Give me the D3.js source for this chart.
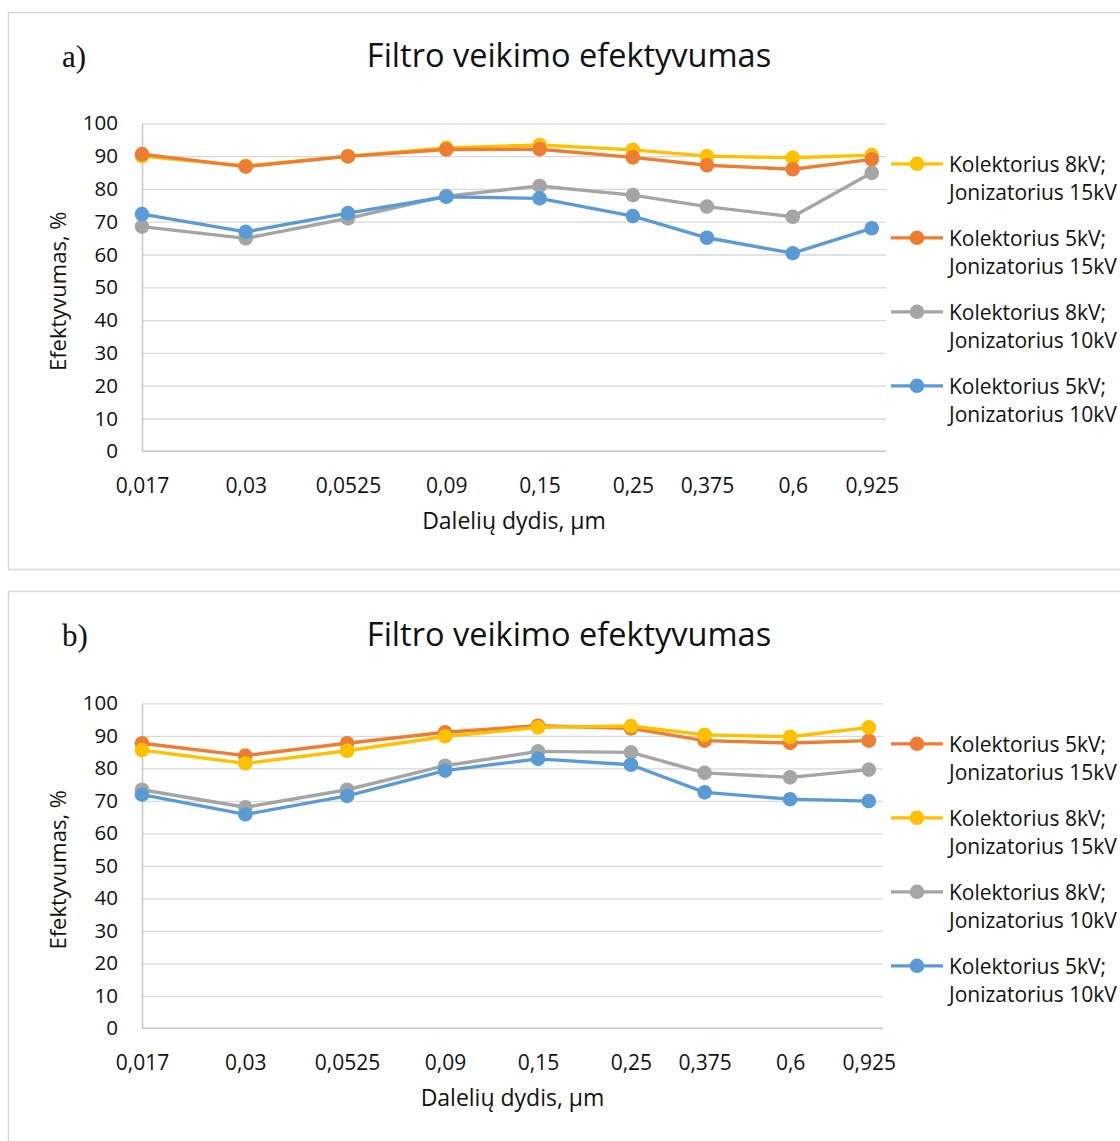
<!DOCTYPE html>
<html>
<head>
<meta charset="utf-8">
<script src="https://cdn.jsdelivr.net/npm/d3@7"></script>
<style>
  body { margin: 0; background: #fff; }
  text { font-family: "Open Sans", sans-serif; fill: #111; }
</style>
</head>
<body>
<div class="plot-item"></div>
<script>
// particle sizes, um (x axis is logarithmic)
var sizes = [0.017, 0.03, 0.0525, 0.09, 0.15, 0.25, 0.375, 0.6, 0.925];
var sizeLabels = ["0,017", "0,03", "0,0525", "0,09", "0,15", "0,25", "0,375", "0,6", "0,925"];
var yTicks = [0, 10, 20, 30, 40, 50, 60, 70, 80, 90, 100];

// chart a)
var aK8J15 = [90.0, 87.0, 90.0, 92.5, 93.4, 91.9, 90.0, 89.5, 90.3];
var aK5J15 = [90.6, 86.8, 89.9, 92.0, 92.1, 89.6, 87.2, 86.0, 89.0];
var aK8J10 = [68.5, 64.9, 71.0, 77.8, 80.9, 78.1, 74.6, 71.5, 84.9];
var aK5J10 = [72.3, 66.9, 72.6, 77.6, 77.1, 71.7, 65.1, 60.4, 68.0];

// chart b)
var bK5J15 = [87.7, 83.9, 87.7, 91.1, 93.1, 92.3, 88.5, 87.8, 88.5];
var bK8J15 = [85.6, 81.5, 85.4, 89.8, 92.6, 93.0, 90.3, 89.7, 92.6];
var bK8J10 = [73.4, 68.0, 73.4, 80.8, 85.2, 84.9, 78.6, 77.2, 79.6];
var bK5J10 = [71.9, 65.8, 71.5, 79.3, 82.9, 81.1, 72.6, 70.5, 69.9];

var colors = {
  k8j15: "#FFC000",
  k5j15: "#ED7D31",
  k8j10: "#A5A5A5",
  k5j10: "#5B9BD5"
};

var w = 1120;
var h = 1141;

var svg = d3.select(".plot-item").append("svg")
      .attr("width", w)
      .attr("height", h);

var charts = [
  {
    label: "a)",
    top: 12,
    plotTop: 123.3,
    plotBottom: 451.3,
    plotLeft: 142,
    plotRight: 886,
    series: [
      { name: ["Kolektorius 8kV;", "Jonizatorius 15kV"], color: colors.k8j15, values: aK8J15 },
      { name: ["Kolektorius 5kV;", "Jonizatorius 15kV"], color: colors.k5j15, values: aK5J15 },
      { name: ["Kolektorius 8kV;", "Jonizatorius 10kV"], color: colors.k8j10, values: aK8J10 },
      { name: ["Kolektorius 5kV;", "Jonizatorius 10kV"], color: colors.k5j10, values: aK5J10 }
    ]
  },
  {
    label: "b)",
    top: 591,
    plotTop: 703.3,
    plotBottom: 1028.3,
    plotLeft: 142,
    plotRight: 883,
    series: [
      { name: ["Kolektorius 5kV;", "Jonizatorius 15kV"], color: colors.k5j15, values: bK5J15 },
      { name: ["Kolektorius 8kV;", "Jonizatorius 15kV"], color: colors.k8j15, values: bK8J15 },
      { name: ["Kolektorius 8kV;", "Jonizatorius 10kV"], color: colors.k8j10, values: bK8J10 },
      { name: ["Kolektorius 5kV;", "Jonizatorius 10kV"], color: colors.k5j10, values: bK5J10 }
    ]
  }
];

charts.forEach(function(c){
  drawChart(c);
});

function drawChart(c){
  var g = svg.append("g");

  // frame (runs off the right edge like the original)
  g.append("rect")
    .attr("x", 8.5)
    .attr("y", c.top + 0.5)
    .attr("width", 1200)
    .attr("height", 557)
    .attr("fill", "none")
    .attr("stroke", "#d9d9d9")
    .attr("stroke-width", 1.5);

  g.append("text")
    .attr("x", 62)
    .attr("y", c.top + 55)
    .style("font-family", "'Liberation Serif', serif")
    .style("font-size", "31px")
    .text(c.label);

  g.append("text")
    .attr("x", 569)
    .attr("y", c.top + 55)
    .attr("text-anchor", "middle")
    .style("font-size", "32.5px")
    .text("Filtro veikimo efektyvumas");

  var x = d3.scaleLog()
        .domain([0.017, 1])
        .range([c.plotLeft, c.plotRight]);
  var y = d3.scaleLinear()
        .domain([0, 100])
        .range([c.plotBottom, c.plotTop]);

  // gridlines
  var yGridlines = d3.axisLeft(y)
        .tickValues(yTicks.slice(1))
        .tickSize(-(c.plotRight - c.plotLeft))
        .tickFormat("");
  var grid = g.append("g")
    .classed("gridline y", true)
    .attr("transform", "translate(" + c.plotLeft + ",0)")
    .call(yGridlines);
  grid.select(".domain").remove();
  grid.selectAll("line")
    .attr("stroke", "#d9d9d9")
    .attr("stroke-width", 1.3);

  // axes
  var yAxis = d3.axisLeft(y)
        .tickValues(yTicks)
        .tickSize(0)
        .tickPadding(24)
        .tickFormat(function(d){ return d.toFixed(0); });
  var ya = g.append("g")
    .classed("axis y", true)
    .attr("transform", "translate(" + c.plotLeft + ",0)")
    .call(yAxis);
  ya.select(".domain").attr("stroke", "#c6c6c6").attr("stroke-width", 1.5);
  ya.selectAll("text")
    .style("font-size", "20.5px")
    .style("font-family", "'Open Sans', sans-serif")
    .attr("fill", "#111");

  var xAxis = d3.axisBottom(x)
        .tickValues(sizes)
        .tickSize(0)
        .tickPadding(27)
        .tickFormat(function(d, i){ return sizeLabels[i]; });
  var xa = g.append("g")
    .classed("axis x", true)
    .attr("transform", "translate(0," + c.plotBottom + ")")
    .call(xAxis);
  xa.select(".domain")
    .attr("d", "M" + c.plotLeft + ",0H" + c.plotRight)
    .attr("stroke", "#c6c6c6")
    .attr("stroke-width", 1.5);
  xa.selectAll("text")
    .style("font-size", "21px")
    .style("font-family", "'Open Sans', sans-serif")
    .attr("fill", "#111");

  g.append("text")
    .attr("text-anchor", "middle")
    .attr("transform", "translate(" + ((c.plotLeft + c.plotRight) / 2) + "," + (c.plotBottom + 78) + ")")
    .style("font-size", "23px")
    .text("Dalelių dydis, µm");

  g.append("text")
    .attr("text-anchor", "middle")
    .attr("transform", "translate(66," + ((c.plotTop + c.plotBottom) / 2 + 4) + ") rotate(-90)")
    .style("font-size", "22px")
    .text("Efektyvumas, %");

  // series
  var line = d3.line()
        .x(function(d, i){ return x(sizes[i]); })
        .y(function(d){ return y(d); });

  c.series.forEach(function(s){
    var sg = g.append("g").classed("result_group", true);
    sg.append("path")
      .attr("d", line(s.values))
      .attr("fill", "none")
      .attr("stroke", s.color)
      .attr("stroke-width", 3.4)
      .attr("stroke-linejoin", "round");
    sg.selectAll(".result")
      .data(s.values)
      .enter()
        .append("circle")
        .classed("result", true)
        .attr("cx", function(d, i){ return x(sizes[i]); })
        .attr("cy", function(d){ return y(d); })
        .attr("r", 7.3)
        .attr("fill", s.color);
  });

  // legend
  var legend = g.append("g")
    .attr("transform", "translate(891," + (c.plotTop + 40.5) + ")");
  c.series.forEach(function(s, i){
    var item = legend.append("g")
      .attr("transform", "translate(0," + (i * 74) + ")");
    item.append("line")
      .attr("x1", 0).attr("x2", 52)
      .attr("y1", 0).attr("y2", 0)
      .attr("stroke", s.color)
      .attr("stroke-width", 3.2);
    item.append("circle")
      .attr("cx", 26).attr("cy", 0)
      .attr("r", 7.3)
      .attr("fill", s.color);
    item.append("text")
      .attr("x", 58)
      .attr("y", 8)
      .style("font-size", "21px")
      .text(s.name[0]);
    item.append("text")
      .attr("x", 58)
      .attr("y", 36.5)
      .style("font-size", "21px")
      .text(s.name[1]);
  });
}
</script>
</body>
</html>
